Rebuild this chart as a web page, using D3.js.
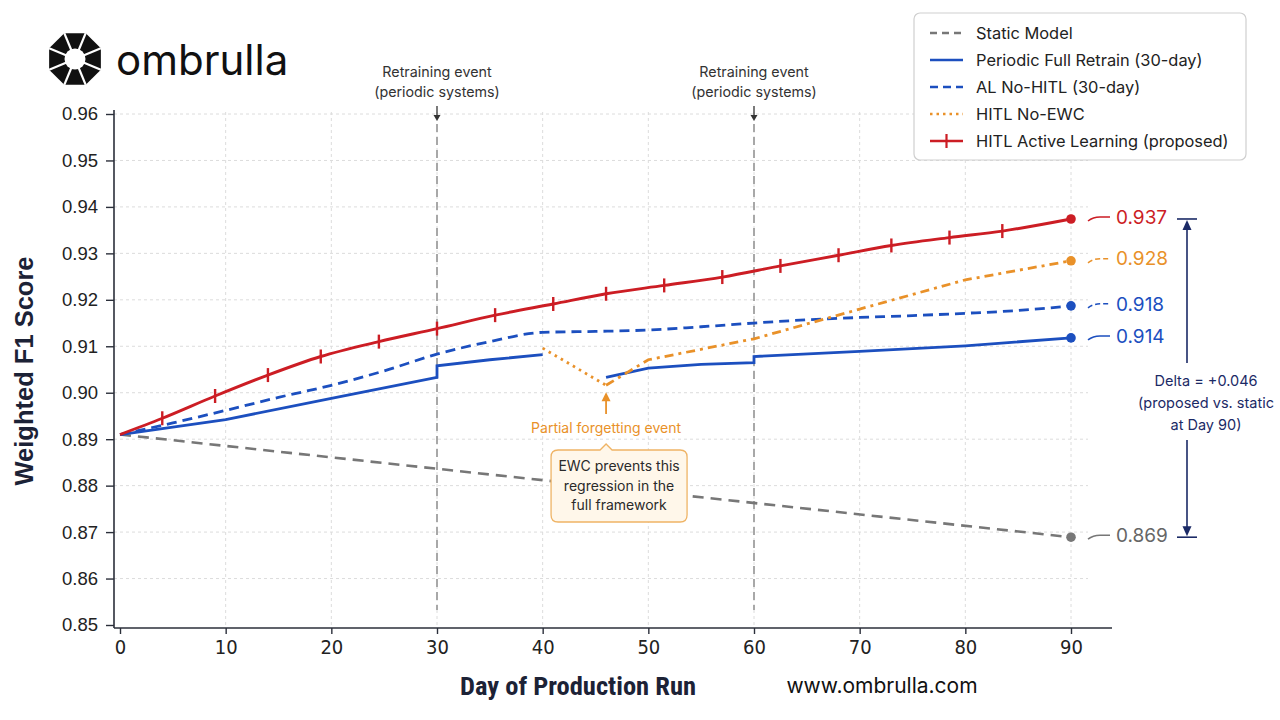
<!DOCTYPE html>
<html>
<head>
<meta charset="utf-8">
<script src="https://cdn.jsdelivr.net/npm/d3@7/dist/d3.min.js"></script>
<style>
  body { margin: 0; background: #fff; }
  svg text { font-family: Inter, "Noto Sans", sans-serif; }
  .tick text { font-family: "Liberation Sans", Arial, sans-serif; }
  .xticks .tick text { font-family: "Liberation Sans Narrow", "DejaVu Sans Condensed", "Roboto Condensed", Roboto, sans-serif; font-stretch: condensed; }
  .axisTitle { font-family: "Liberation Sans Narrow", "Roboto Condensed", Roboto, sans-serif; font-stretch: condensed; }
  .yTitle { font-family: "Liberation Sans", Arial, sans-serif; }
</style>
</head>
<body>
<div id="chart"></div>
<script>
var svgWidth = 1280;
var svgHeight = 720;

// ---- data ----
var xTicks = [0, 10, 20, 30, 40, 50, 60, 70, 80, 90];
var yTicks = [0.85, 0.86, 0.87, 0.88, 0.89, 0.90, 0.91, 0.92, 0.93, 0.94, 0.95, 0.96];

var staticDays = [0, 90];
var staticValues = [0.891, 0.8689];

// periodic retrain: jumps at day 30 and 60, missing segment 40-46
var retrainDays = [0, 10, 20, 30, 30, 35, 40, 43, 46, 50, 55, 60, 60, 70, 80, 90];
var retrainValues = [0.891, 0.8942, 0.8988, 0.9033, 0.9058, 0.9071, 0.9082, null, 0.9033, 0.9053, 0.9061, 0.9065, 0.9078, 0.9089, 0.9101, 0.9118];

var alDays = [0, 5, 10, 15, 20, 25, 30, 35, 40, 45, 50, 55, 60, 65, 70, 75, 80, 85, 90];
var alValues = [0.891, 0.8935, 0.8962, 0.899, 0.9016, 0.9047, 0.9083, 0.911, 0.913, 0.9132, 0.9135, 0.9142, 0.915, 0.9157, 0.9162, 0.9166, 0.9171, 0.9177, 0.9187];

var noEwcDays = [40, 46, 50, 60, 70, 80, 90];
var noEwcValues = [0.9096, 0.9016, 0.9071, 0.9116, 0.918, 0.9243, 0.9284];

var hitlDays = [0, 4, 9, 14, 19, 24.5, 30, 35.5, 41, 46, 51.5, 57, 62.5, 68, 73, 78.5, 83.5, 90];
var hitlValues = [0.891, 0.8945, 0.8993, 0.9038, 0.9078, 0.911, 0.9138, 0.9167, 0.9191, 0.9213, 0.9231, 0.9249, 0.9273, 0.9296, 0.9317, 0.9334, 0.9348, 0.9374];

var legendNames = ['Static Model', 'Periodic Full Retrain (30-day)', 'AL No-HITL (30-day)', 'HITL No-EWC', 'HITL Active Learning (proposed)'];
var endLabels = ['0.937', '0.928', '0.918', '0.914', '0.869'];
var retrainEventDays = [30, 60];
var forgettingDay = 46;

var red = '#cc1d24', blue = '#1c4fbf', orange = '#e99129', gray = '#777777', navy = '#1b2a66';

// small helper to zip days and values into point objects
function zip(days, values) {
    return days.map((d, i) => ({ day: d, value: values[i] }));
}

var svg = d3.select('#chart')
    .append('svg')
    .attr('width', svgWidth)
    .attr('height', svgHeight);

// scales
var xScale = d3.scaleLinear().domain([0, 90]).range([120, 1071]);
var yScale = d3.scaleLinear().domain([0.85, 0.96]).range([625, 114]);

var axisX = 114, axisY = 628;

// grid lines
svg.append('g').selectAll('line')
    .data(yTicks.slice(1))
    .enter()
    .append('line')
    .attr('x1', axisX).attr('x2', 1088)
    .attr('y1', d => yScale(d)).attr('y2', d => yScale(d))
    .attr('stroke', '#dcdcdc').attr('stroke-dasharray', '3,3');

svg.append('g').selectAll('line')
    .data(xTicks.slice(1))
    .enter()
    .append('line')
    .attr('x1', d => xScale(d)).attr('x2', d => xScale(d))
    .attr('y1', 112).attr('y2', axisY)
    .attr('stroke', '#dcdcdc').attr('stroke-dasharray', '3,3');

// retraining event markers
retrainEventDays.forEach(function (d) {
    var x = xScale(d);
    svg.append('line')
        .attr('x1', x).attr('x2', x)
        .attr('y1', 124).attr('y2', 610)
        .attr('stroke', '#a8a8a8').attr('stroke-width', 2)
        .attr('stroke-dasharray', '8,5');
    svg.append('text')
        .attr('x', x).attr('y', 77)
        .attr('text-anchor', 'middle')
        .attr('font-size', '14.3px').attr('fill', '#333')
        .text('Retraining event');
    svg.append('text')
        .attr('x', x).attr('y', 97)
        .attr('text-anchor', 'middle')
        .attr('font-size', '14.3px').attr('fill', '#333')
        .text('(periodic systems)');
    svg.append('line')
        .attr('x1', x).attr('x2', x)
        .attr('y1', 106).attr('y2', 119)
        .attr('stroke', '#333').attr('stroke-width', 1.3);
    svg.append('path')
        .attr('d', `M${x - 3.5},${115} L${x + 3.5},${115} L${x},${121} Z`)
        .attr('fill', '#333');
});

// axes
var bottomAxis = d3.axisBottom(xScale).tickValues(xTicks).tickSize(6).tickPadding(6);
var leftAxis = d3.axisLeft(yScale).tickValues(yTicks).tickSize(8).tickPadding(8).tickFormat(d3.format('.2f'));

var xAxis = svg.append('g')
    .attr('class', 'xticks')
    .attr('transform', `translate(0,${axisY})`)
    .call(bottomAxis);
xAxis.select('.domain').attr('d', `M${axisX},0H1112`);

var yAxis = svg.append('g')
    .attr('transform', `translate(${axisX},0)`)
    .call(leftAxis);
yAxis.select('.domain').attr('d', `M0,110V${axisY}`);

svg.selectAll('.domain').attr('stroke', '#2b2f3a').attr('stroke-width', 1.6);
svg.selectAll('.tick line').attr('stroke', '#2b2f3a').attr('stroke-width', 1.4);
xAxis.selectAll('.tick text').attr('font-size', '20px').attr('fill', '#222');
yAxis.selectAll('.tick text').attr('font-size', '18.5px').attr('fill', '#222');

// line generators
var line = d3.line()
    .defined(d => d.value !== null)
    .x(d => xScale(d.day))
    .y(d => yScale(d.value));
var smoothLine = d3.line()
    .x(d => xScale(d.day))
    .y(d => yScale(d.value))
    .curve(d3.curveMonotoneX);

var staticData = zip(staticDays, staticValues);
var retrainData = zip(retrainDays, retrainValues);
var alData = zip(alDays, alValues);
var noEwcData = zip(noEwcDays, noEwcValues);
var hitlData = zip(hitlDays, hitlValues);

var plot = svg.append('g');

plot.append('path').datum(staticData)
    .attr('d', line)
    .attr('fill', 'none').attr('stroke', gray).attr('stroke-width', 2.6)
    .attr('stroke-dasharray', '11,7');

plot.append('path').datum(retrainData)
    .attr('d', line)
    .attr('fill', 'none').attr('stroke', blue).attr('stroke-width', 2.8);

plot.append('path').datum(alData)
    .attr('d', smoothLine)
    .attr('fill', 'none').attr('stroke', blue).attr('stroke-width', 2.8)
    .attr('stroke-dasharray', '10,6');

// forgetting drop drawn dotted, recovery drawn dash-dot
plot.append('path').datum(noEwcData.slice(0, 2))
    .attr('d', line)
    .attr('fill', 'none').attr('stroke', orange).attr('stroke-width', 2.8)
    .attr('stroke-dasharray', '2.5,4.5');
plot.append('path').datum(noEwcData.slice(1))
    .attr('d', line)
    .attr('fill', 'none').attr('stroke', orange).attr('stroke-width', 2.8)
    .attr('stroke-dasharray', '9,5,3,5');

plot.append('path').datum(hitlData)
    .attr('d', smoothLine)
    .attr('fill', 'none').attr('stroke', red).attr('stroke-width', 2.9);

// red tick markers
plot.selectAll('.hitlTick')
    .data(hitlData.slice(1, -1))
    .enter()
    .append('line')
    .attr('x1', d => xScale(d.day)).attr('x2', d => xScale(d.day))
    .attr('y1', d => yScale(d.value) - 7).attr('y2', d => yScale(d.value) + 7)
    .attr('stroke', red).attr('stroke-width', 2.4);

// end points and labels
var ends = [
    { data: hitlData, color: red, dash: null },
    { data: noEwcData, color: orange, dash: '5,3' },
    { data: alData, color: blue, dash: '5,3' },
    { data: retrainData, color: blue, dash: null },
    { data: staticData, color: gray, dash: null }
];
ends.forEach(function (s, i) {
    var last = s.data[s.data.length - 1];
    var x = xScale(last.day), y = yScale(last.value);
    plot.append('circle')
        .attr('cx', x).attr('cy', y).attr('r', 4.8)
        .attr('fill', s.color);
    svg.append('path')
        .attr('d', `M${x + 17},${y + 2} Q${x + 22},${y - 2} ${x + 29},${y - 2} L${x + 39},${y - 2}`)
        .attr('fill', 'none').attr('stroke', s.color).attr('stroke-width', 1.5)
        .attr('stroke-dasharray', s.dash);
    svg.append('text')
        .attr('x', x + 45).attr('y', y - 2)
        .attr('dy', '0.35em')
        .attr('font-size', '19px')
        .attr('fill', s.color === gray ? '#666' : s.color)
        .text(endLabels[i]);
});

// delta bracket between proposed and static at day 90
var yTop = yScale(hitlValues[hitlValues.length - 1]);
var yBot = yScale(staticValues[staticValues.length - 1]);
var bx = 1187;
var bracket = svg.append('g').attr('stroke', navy).attr('fill', navy);
bracket.append('line').attr('x1', bx - 10).attr('x2', bx + 10).attr('y1', yTop).attr('y2', yTop).attr('stroke-width', 1.6);
bracket.append('line').attr('x1', bx - 10).attr('x2', bx + 10).attr('y1', yBot).attr('y2', yBot).attr('stroke-width', 1.6);
bracket.append('line').attr('x1', bx).attr('x2', bx).attr('y1', yTop + 8).attr('y2', 363).attr('stroke-width', 1.6);
bracket.append('line').attr('x1', bx).attr('x2', bx).attr('y1', 440).attr('y2', yBot - 8).attr('stroke-width', 1.6);
bracket.append('path').attr('d', `M${bx},${yTop + 1} L${bx - 4.5},${yTop + 11} L${bx + 4.5},${yTop + 11} Z`).attr('stroke', 'none');
bracket.append('path').attr('d', `M${bx},${yBot - 1} L${bx - 4.5},${yBot - 11} L${bx + 4.5},${yBot - 11} Z`).attr('stroke', 'none');

var deltaText = ['Delta = +0.046', '(proposed vs. static', 'at Day 90)'];
svg.selectAll('.deltaText')
    .data(deltaText)
    .enter()
    .append('text')
    .attr('x', 1206)
    .attr('y', (d, i) => 386 + i * 22)
    .attr('text-anchor', 'middle')
    .attr('font-size', '14.5px')
    .attr('fill', navy)
    .text(d => d);

// forgetting annotation
var fx = xScale(forgettingDay);
var fy = yScale(noEwcValues[1]);
svg.append('line')
    .attr('x1', fx).attr('x2', fx)
    .attr('y1', 414).attr('y2', fy + 12)
    .attr('stroke', orange).attr('stroke-width', 1.8);
svg.append('path')
    .attr('d', `M${fx - 4.5},${fy + 16} L${fx + 4.5},${fy + 16} L${fx},${fy + 7} Z`)
    .attr('fill', orange);
svg.append('text')
    .attr('x', fx).attr('y', 433)
    .attr('text-anchor', 'middle')
    .attr('font-size', '14px')
    .attr('fill', orange)
    .text('Partial forgetting event');

// callout box with small notch
var bxL = fx - 55, bxR = fx + 81, byT = 450, byB = 522, r = 7;
svg.append('path')
    .attr('d', `M${bxL + r},${byT} L${fx - 6},${byT} L${fx},${byT - 6} L${fx + 6},${byT} L${bxR - r},${byT}
        Q${bxR},${byT} ${bxR},${byT + r} L${bxR},${byB - r} Q${bxR},${byB} ${bxR - r},${byB}
        L${bxL + r},${byB} Q${bxL},${byB} ${bxL},${byB - r} L${bxL},${byT + r} Q${bxL},${byT} ${bxL + r},${byT} Z`)
    .attr('fill', '#fff7ea')
    .attr('stroke', '#efb466')
    .attr('stroke-width', 1.3);
var calloutText = ['EWC prevents this', 'regression in the', 'full framework'];
svg.selectAll('.callout')
    .data(calloutText)
    .enter()
    .append('text')
    .attr('x', (bxL + bxR) / 2)
    .attr('y', (d, i) => 471 + i * 19.5)
    .attr('text-anchor', 'middle')
    .attr('font-size', '14px')
    .attr('fill', '#2a2a2a')
    .text(d => d);

// legend
var legend = svg.append('g').attr('transform', 'translate(914,13)');
legend.append('rect')
    .attr('width', 332).attr('height', 147)
    .attr('rx', 6)
    .attr('fill', '#fff').attr('stroke', '#cfcfcf').attr('stroke-width', 1.2);
var legendStyles = [
    { color: gray, dash: '7,5' },
    { color: blue, dash: null },
    { color: blue, dash: '8,5' },
    { color: orange, dash: '2.5,4' },
    { color: red, dash: null }
];
legendNames.forEach(function (name, i) {
    var ly = 20 + i * 27;
    legend.append('line')
        .attr('x1', 16).attr('x2', 49)
        .attr('y1', ly).attr('y2', ly)
        .attr('stroke', legendStyles[i].color).attr('stroke-width', 2.6)
        .attr('stroke-dasharray', legendStyles[i].dash);
    if (i === 4) {
        legend.append('line')
            .attr('x1', 32.5).attr('x2', 32.5)
            .attr('y1', ly - 7).attr('y2', ly + 7)
            .attr('stroke', red).attr('stroke-width', 2.2);
    }
    legend.append('text')
        .attr('x', 62).attr('y', ly)
        .attr('dy', '0.35em')
        .attr('font-size', '16.4px')
        .attr('fill', '#222')
        .text(name);
});

// axis titles
svg.append('text')
    .attr('class', 'axisTitle')
    .attr('x', 578).attr('y', 695)
    .attr('text-anchor', 'middle')
    .attr('font-size', '26.5px').attr('font-weight', 'bold')
    .attr('fill', '#1c2236')
    .text('Day of Production Run');

svg.append('text')
    .attr('class', 'yTitle')
    .attr('transform', 'translate(33,371) rotate(-90)')
    .attr('text-anchor', 'middle')
    .attr('font-size', '25.5px').attr('font-weight', 'bold')
    .attr('fill', '#1c2236')
    .text('Weighted F1 Score');

svg.append('text')
    .attr('x', 882).attr('y', 693)
    .attr('text-anchor', 'middle')
    .attr('font-size', '21px')
    .attr('fill', '#111')
    .text('www.ombrulla.com');

// logo: octagonal umbrella mark + word
var logo = svg.append('g').attr('transform', 'translate(75,59)');
var oct = d3.range(8).map(k => {
    var a = (k * 45 - 112.5) * Math.PI / 180;
    return [28 * Math.cos(a), 28 * Math.sin(a)];
});
logo.append('path')
    .attr('d', 'M' + oct.map(p => p.join(',')).join('L') + 'Z')
    .attr('fill', '#111');
oct.forEach(function (p) {
    logo.append('line')
        .attr('x1', 0).attr('y1', 0)
        .attr('x2', p[0]).attr('y2', p[1])
        .attr('stroke', '#fff').attr('stroke-width', 2.2);
});
logo.append('circle').attr('r', 10.5).attr('fill', '#fff');

svg.append('text')
    .attr('x', 116).attr('y', 75)
    .attr('font-size', '42px')
    .attr('fill', '#111')
    .text('ombrulla');
</script>
</body>
</html>
